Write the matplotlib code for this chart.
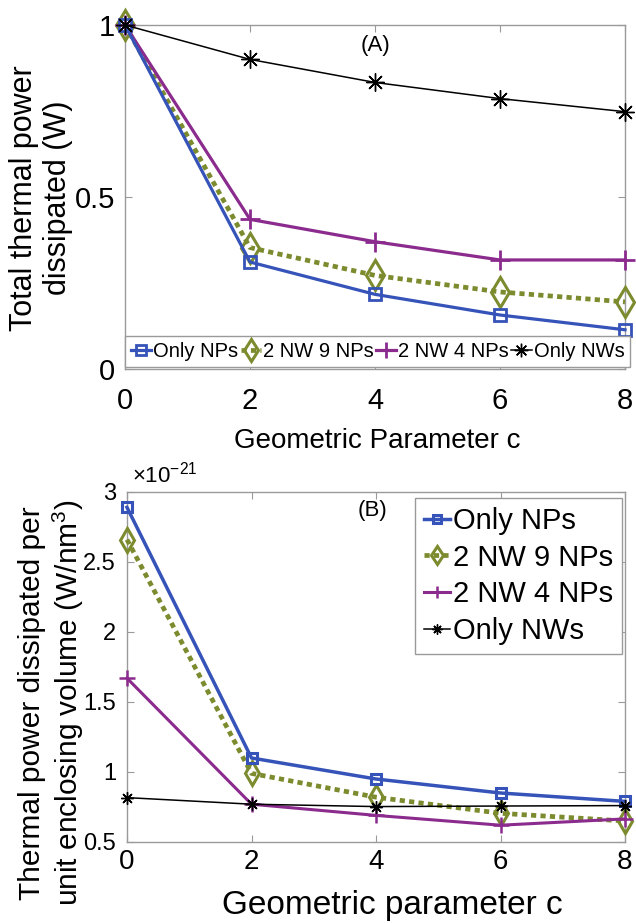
import matplotlib
matplotlib.use("Agg")
import matplotlib.pyplot as plt
import numpy as np
from matplotlib.ticker import FuncFormatter
from matplotlib import font_manager

plt.rcParams['font.family'] = ['Liberation Sans', 'DejaVu Sans']
plt.rcParams['mathtext.fontset'] = 'custom'
plt.rcParams['mathtext.rm'] = 'Liberation Sans'
plt.rcParams['mathtext.it'] = 'Liberation Sans:italic'

_names = {f.name for f in font_manager.fontManager.ttflist}
HAS_NARROW = 'Liberation Sans Narrow' in _names

# ---------------- data ----------------
c_values = [0, 2, 4, 6, 8]
series_names = ["Only NPs", "2 NW 9 NPs", "2 NW 4 NPs", "Only NWs"]

# (A) Total thermal power dissipated (W)
total_only_nps = [1.0, 0.311, 0.217, 0.157, 0.114]
total_2nw_9nps = [1.0, 0.353, 0.272, 0.224, 0.195]
total_2nw_4nps = [1.0, 0.435, 0.370, 0.317, 0.317]
total_only_nws = [1.0, 0.900, 0.833, 0.786, 0.748]

# (B) Thermal power per unit enclosing volume (x1e-21 W/nm^3)
vol_scale = 1e-21
vol_only_nps = [2.89, 1.10, 0.95, 0.85, 0.79]
vol_2nw_9nps = [2.66, 0.99, 0.82, 0.705, 0.65]
vol_2nw_4nps = [1.67, 0.77, 0.69, 0.62, 0.665]
vol_only_nws = [0.817, 0.77, 0.753, 0.757, 0.76]

# ---------------- styles ----------------
BLUE = '#3553b8'
OLIVE = '#7b8b2e'
PURPLE = '#8b2b8e'
BLACK = '#000000'
AXC = '#9a9a9a'

fig = plt.figure(figsize=(6.36, 9.23), dpi=100)

ax1 = fig.add_axes([125/636, 1-369/923, 500/636, 344/923])
ax2 = fig.add_axes([127/636, 1-842/923, 498/636, 350/923])

def style_axes(ax, xfs, yfs, xpad, ypad):
    for s in ax.spines.values():
        s.set_color(AXC)
        s.set_linewidth(1.0)
    ax.tick_params(direction='in', length=5, width=0.8, color=AXC,
                   top=True, right=True, labelcolor='black')
    ax.tick_params(axis='x', labelsize=xfs, pad=xpad)
    ax.tick_params(axis='y', labelsize=yfs, pad=ypad)

# ---- Panel A ----
ax1.plot(c_values, total_only_nps, color=BLUE, lw=2.3, marker='s', ms=9,
         mfc='none', mec=BLUE, mew=2.0, clip_on=False, zorder=4, label=series_names[0])
ax1.plot(c_values, total_2nw_9nps, color=OLIVE, lw=3.4, ls=(0, (1.1, 0.9)), marker='d', ms=15,
         mfc='none', mec=OLIVE, mew=2.2, clip_on=False, zorder=3, label=series_names[1])
ax1.plot(c_values, total_2nw_4nps, color=PURPLE, lw=2.3, marker='+', ms=15,
         mew=2.0, clip_on=False, zorder=3, label=series_names[2])
ax1.plot(c_values, total_only_nws, color=BLACK, lw=1.1, marker=(8, 2, 0), ms=13,
         mew=1.0, clip_on=False, zorder=5, label=series_names[3])
ax1.set_xlim(0, 8)
ax1.set_ylim(0, 1)
ax1.set_xticks([0, 2, 4, 6, 8])
ax1.set_yticks([0, 0.5, 1])
ax1.yaxis.set_major_formatter(FuncFormatter(lambda v, p: f'{v:g}'))
style_axes(ax1, 21, 21, 13, 7)
ax1.text(4.0, 0.94, '(A)', fontsize=16, ha='center', va='center')

if HAS_NARROW:
    leg_props = {'family': 'Liberation Sans Narrow', 'size': 16.5}
else:
    leg_props = {'family': 'Liberation Sans', 'size': 14.5}
leg1 = ax1.legend(loc='lower left', bbox_to_anchor=(0.0, 0.005), borderaxespad=0,
                  ncol=4, prop=leg_props, handlelength=1.0, handletextpad=0.1,
                  columnspacing=0.12, borderpad=0.3, fancybox=False, markerscale=0.75,
                  edgecolor=AXC, framealpha=1)
leg1.get_frame().set_linewidth(1.0)

fig.text(41/636, 1-198/923, 'Total thermal power\ndissipated (W)', rotation=90,
         ha='center', va='center', fontsize=22, multialignment='center', linespacing=1.15)
fig.text(377/636, 1-448/923, 'Geometric Parameter c', ha='center', va='baseline', fontsize=20)

# ---- Panel B ----
vs = np.array
ax2.plot(c_values, vs(vol_only_nps)*vol_scale, color=BLUE, lw=2.5, marker='s', ms=7.5,
         mfc='none', mec=BLUE, mew=2.2, clip_on=False, zorder=4, label=series_names[0])
ax2.plot(c_values, vs(vol_2nw_9nps)*vol_scale, color=OLIVE, lw=3.4, ls=(0, (1.1, 0.9)), marker='d', ms=12,
         mfc='none', mec=OLIVE, mew=2.2, clip_on=False, zorder=3, label=series_names[1])
ax2.plot(c_values, vs(vol_2nw_4nps)*vol_scale, color=PURPLE, lw=2.2, marker='+', ms=11,
         mew=1.8, clip_on=False, zorder=3, label=series_names[2])
ax2.plot(c_values, vs(vol_only_nws)*vol_scale, color=BLACK, lw=1.1, marker=(8, 2, 0), ms=9,
         mew=1.0, clip_on=False, zorder=5, label=series_names[3])
ax2.set_xlim(0, 8)
ax2.set_ylim(0.5*vol_scale, 3*vol_scale)
ax2.set_xticks([0, 2, 4, 6, 8])
ax2.set_yticks(np.array([0.5, 1, 1.5, 2, 2.5, 3])*vol_scale)
ax2.yaxis.set_major_formatter(FuncFormatter(lambda v, p: f'{v/vol_scale:g}'))
style_axes(ax2, 20, 17, 5, 8)
ax2.text(3.95, 2.87*vol_scale, '(B)', fontsize=16, ha='center', va='center')
ax2.text(0.01, 1.012, r'$\times10^{-21}$', transform=ax2.transAxes, ha='left', va='bottom', fontsize=16)

leg2 = ax2.legend(loc='upper right', bbox_to_anchor=((622-127)/498, (842-498)/350),
                  borderaxespad=0, fontsize=21, handlelength=0.9, handletextpad=0.1,
                  labelspacing=0.3, borderpad=0.3, fancybox=False, markerscale=0.8,
                  edgecolor=AXC, framealpha=1)
leg2.get_frame().set_linewidth(1.0)

fig.text(52/636, 1-703/923, 'Thermal power dissipated per\nunit enclosing volume (W/nm$^3$)',
         rotation=90, ha='center', va='center', fontsize=21.5, multialignment='center',
         linespacing=1.15)
fig.text(392/636, 1-914/923, 'Geometric parameter c', ha='center', va='baseline', fontsize=24)

fig.savefig('out.png', dpi=100)
